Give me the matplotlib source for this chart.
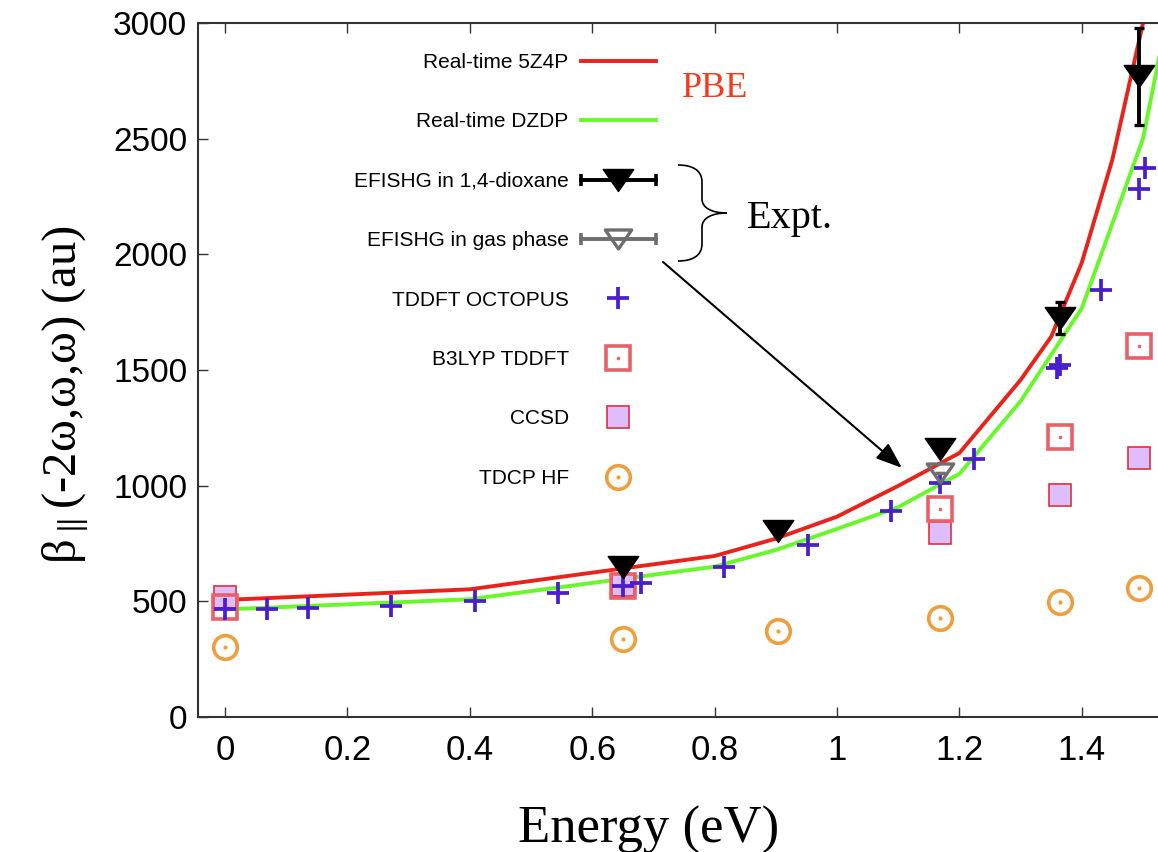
import numpy as np
import matplotlib
matplotlib.use("Agg")
import matplotlib.pyplot as plt
from matplotlib.path import Path
from matplotlib.patches import PathPatch
from matplotlib.lines import Line2D
from matplotlib.legend_handler import HandlerLine2D

# ---- Real-time TDDFT (PBE) curves ----
energy_5z4p = [0.0, 0.4, 0.8, 0.9, 1.0, 1.1, 1.2, 1.3, 1.35, 1.4, 1.45, 1.5, 1.55]
beta_5z4p = [506, 552, 696, 771, 866, 999, 1141, 1457, 1644, 1964, 2410, 3000, 3750]

energy_dzdp = [0.0, 0.4, 0.8, 0.9, 1.0, 1.1, 1.2, 1.3, 1.4, 1.5, 1.6]
beta_dzdp = [465, 509, 650, 722, 813, 907, 1051, 1365, 1767, 2500, 3830]

# ---- EFISHG experiments ----
energy_dioxane = [0.650, 0.904, 1.169, 1.364, 1.494]
beta_dioxane = [650, 804, 1157, 1724, 2770]
err_dioxane = [15, 0, 0, 70, 210]

energy_gas = [1.169]
beta_gas = [1054]
err_gas = [0]

# ---- Other calculations ----
energy_octopus = [0.0, 0.068, 0.136, 0.272, 0.408, 0.544, 0.650, 0.680, 0.816,
                  0.952, 1.088, 1.169, 1.224, 1.360, 1.364, 1.432, 1.494, 1.503]
beta_octopus = [467, 467, 470, 481, 503, 535, 566, 581, 650,
                744, 890, 1010, 1114, 1508, 1520, 1846, 2281, 2372]

energy_b3lyp = [0.0, 0.650, 1.169, 1.364, 1.494]
beta_b3lyp = [476, 566, 898, 1209, 1604]

energy_ccsd = [0.0, 0.650, 1.169, 1.364, 1.494]
beta_ccsd = [519, 570, 794, 960, 1118]

energy_hf = [0.0, 0.650, 0.904, 1.169, 1.364, 1.494]
beta_hf = [301, 336, 372, 429, 496, 559]

x_ticks = [0, 0.2, 0.4, 0.6, 0.8, 1.0, 1.2, 1.4]
x_tick_labels = ["0", "0.2", "0.4", "0.6", "0.8", "1", "1.2", "1.4"]
y_ticks = [0, 500, 1000, 1500, 2000, 2500, 3000]

# ---- colours ----
RED = "#E8231B"
GREEN = "#68F82A"
BLUE = "#4A1ECF"
SALMON = "#EA5F68"
LAVENDER = "#DDBDFB"
CCSD_EDGE = "#E2303C"
ORANGE = "#EF9E3E"
GRAY = "#6E6E6E"

plt.rcParams["mathtext.fontset"] = "stix"

W, H = 1158, 852
fig = plt.figure(figsize=(W / 100, H / 100), dpi=100)
ax = fig.add_axes([198.3 / W, (H - 717) / H, 1005.9 / W, 694 / H])
ax.set_xlim(-0.0436, 1.6)
ax.set_ylim(0, 3000)

# flattened downward triangle used for the EFISHG points
flat_tri = Path([(-1, 0.72), (1, 0.72), (0, -0.72), (-1, 0.72)],
                [Path.MOVETO, Path.LINETO, Path.LINETO, Path.CLOSEPOLY])

# ---- curves ----
l_5z4p, = ax.plot(energy_5z4p, beta_5z4p, color=RED, lw=2.8, zorder=2,
                  solid_joinstyle="round")
l_dzdp, = ax.plot(energy_dzdp, beta_dzdp, color=GREEN, lw=2.8, zorder=2,
                  solid_joinstyle="round")

# ---- points ----
m_ccsd, = ax.plot(energy_ccsd, beta_ccsd, ls="none", marker="s", markersize=16.5,
                  markerfacecolor=LAVENDER, markeredgecolor=CCSD_EDGE,
                  markeredgewidth=1.2, zorder=3)
m_b3lyp, = ax.plot(energy_b3lyp, beta_b3lyp, ls="none", marker="s",
                   markersize=17.5, markerfacecolor="none", markeredgecolor=SALMON,
                   markeredgewidth=2.6, zorder=4)
d_b3lyp, = ax.plot(energy_b3lyp, beta_b3lyp, ls="none", marker="o",
                   markersize=2.6, markeredgewidth=0, color=SALMON, zorder=4)
m_hf, = ax.plot(energy_hf, beta_hf, ls="none", marker="o", markersize=17,
                markerfacecolor="none", markeredgecolor=ORANGE,
                markeredgewidth=2.6, zorder=4)
d_hf, = ax.plot(energy_hf, beta_hf, ls="none", marker="o", markersize=3,
                markeredgewidth=0, color=ORANGE, zorder=4)
m_oct, = ax.plot(energy_octopus, beta_octopus, ls="none", marker="+",
                 markersize=16.5, markeredgewidth=2.7, color=BLUE, zorder=5)

ax.errorbar(energy_dioxane, beta_dioxane, yerr=err_dioxane, fmt="none",
            ecolor="black", elinewidth=2.8, capsize=3.8, capthick=2.4, zorder=6)
m_diox, = ax.plot(energy_dioxane, beta_dioxane, ls="none", marker=flat_tri,
                  markersize=22, color="black", zorder=6)
ax.errorbar(energy_gas, beta_gas, yerr=err_gas, fmt="none",
            ecolor=GRAY, elinewidth=2.8, capsize=3.8, capthick=2.4, zorder=7)
m_gas, = ax.plot(energy_gas, beta_gas, ls="none", marker=flat_tri,
                 markersize=19, markerfacecolor="none", markeredgecolor=GRAY,
                 markeredgewidth=2.4, zorder=7)

# ---- legend (labels on the left, symbols on the right) ----
bar_diox = Line2D([], [], color="black", lw=2.8, marker="|", markersize=8,
                  markeredgewidth=2.6)
bar_gas = Line2D([], [], color=GRAY, lw=2.8, marker="|", markersize=8,
                 markeredgewidth=2.6)
handles = [l_5z4p, l_dzdp, (bar_diox, m_diox), (bar_gas, m_gas),
           m_oct, (m_b3lyp, d_b3lyp), m_ccsd, (m_hf, d_hf)]
labels = ["Real-time 5Z4P", "Real-time DZDP", "EFISHG in 1,4-dioxane",
          "EFISHG in gas phase", "TDDFT OCTOPUS", "B3LYP TDDFT", "CCSD", "TDCP HF"]
leg = ax.legend(handles, labels, loc="upper right",
                bbox_to_anchor=(656 / W, (H - 53) / H),
                bbox_transform=fig.transFigure, frameon=False, markerfirst=False,
                prop={"family": "Liberation Sans", "size": 15},
                labelspacing=1.94, handlelength=3.62, handletextpad=0.57,
                borderpad=0, borderaxespad=0,
                handler_map={bar_diox: HandlerLine2D(numpoints=2, marker_pad=0),
                             bar_gas: HandlerLine2D(numpoints=2, marker_pad=0)})

# ---- annotations ----
ax.text(0.8007, 2719, "PBE", color="#F5391C", fontsize=26,
        family="Liberation Serif", ha="center", va="center")
ax.text(0.923, 2157, "Expt.", color="black", fontsize=29,
        family="Liberation Serif", ha="center", va="center")
ax.annotate("", xy=(1.106, 1077), xytext=(0.7157, 1967),
            arrowprops=dict(arrowstyle="-|>,head_length=0.8,head_width=0.3",
                            color="black", lw=1.5, mutation_scale=20,
                            shrinkA=0, shrinkB=0))

# curly brace grouping the two experimental entries (figure pixel positions)
brace_px = [(678, 165), (692, 165), (702, 170), (702, 182), (702, 199),
            (702, 208), (712, 213), (727, 213), (712, 213), (702, 218),
            (702, 227), (702, 244), (702, 256), (692, 261), (678, 261)]
brace_codes = [Path.MOVETO, Path.CURVE4, Path.CURVE4, Path.CURVE4, Path.LINETO,
               Path.CURVE4, Path.CURVE4, Path.CURVE4, Path.CURVE4, Path.CURVE4,
               Path.CURVE4, Path.LINETO, Path.CURVE4, Path.CURVE4, Path.CURVE4]
brace = Path([(x / W, 1 - y / H) for x, y in brace_px], brace_codes)
fig.patches.append(PathPatch(brace, transform=fig.transFigure, fill=False,
                             edgecolor="black", lw=1.2))

# ---- axes styling ----
for side in ["left", "bottom", "top", "right"]:
    ax.spines[side].set_color("#333333")
    ax.spines[side].set_linewidth(1.5)
ax.set_xticks(x_ticks)
ax.set_xticklabels(x_tick_labels)
ax.set_yticks(y_ticks)
ax.tick_params(direction="in", length=7, width=1, color="#333333",
               top=True, right=True)
ax.tick_params(axis="x", pad=12, labelsize=25)
ax.tick_params(axis="y", pad=8, labelsize=24)
for lbl in ax.get_xticklabels() + ax.get_yticklabels():
    lbl.set_family("Liberation Sans")

ax.set_xlabel("Energy (eV)", family="Liberation Serif", fontsize=38)
ax.xaxis.set_label_coords((649 - 198.3) / 1005.9, (717 - 806) / 694)
ax.set_ylabel(r"β$_{\parallel}$(-2ω,ω,ω) (au)", family="Liberation Serif",
              fontsize=35)
ax.yaxis.set_label_coords((90 - 198.3) / 1005.9, (717 - 395) / 694)

fig.savefig("out.png", dpi=100)
